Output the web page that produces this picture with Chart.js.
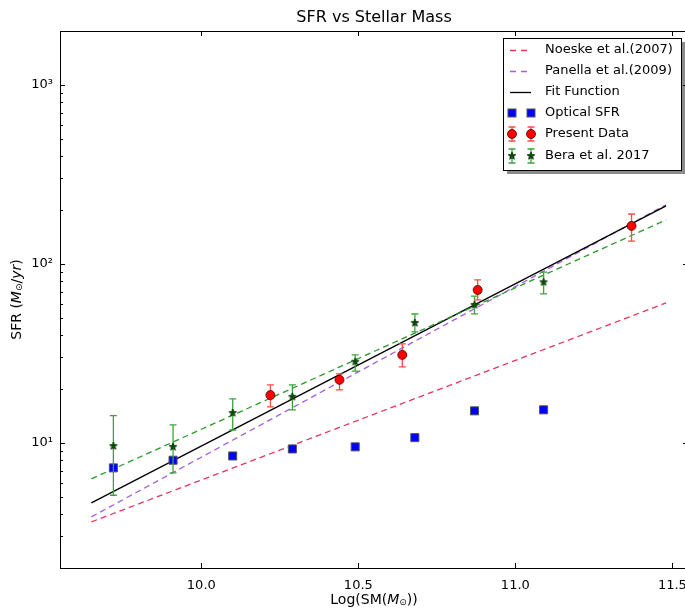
<!DOCTYPE html>
<html lang="en">
<head>
<meta charset="UTF-8">
<title>SFR vs Stellar Mass</title>
<script src="https://cdn.jsdelivr.net/npm/chart.js"></script>
<style>
  html, body { margin: 0; padding: 0; background: #fff; overflow: hidden; }
  #wrap { width: 697px; height: 608px; }
</style>
</head>
<body>
<div id="wrap"><canvas id="sfrChart" width="697" height="608"></canvas></div>
<script>
// data
const opticalMass = [9.72, 9.91, 10.10, 10.29, 10.49, 10.68, 10.87, 11.09];
const opticalSfr  = [7.25, 8.0, 8.45, 9.25, 9.5, 10.7, 15.1, 15.3];

const presentMass = [10.22, 10.44, 10.64, 10.88, 11.37];
const presentSfr  = [18.5, 22.5, 31.0, 71.5, 163];
const presentLow  = [15.9, 19.8, 26.6, 63, 134];
const presentHigh = [21.1, 24.3, 35.7, 81.5, 190];

const beraMass = [9.72, 9.91, 10.10, 10.29, 10.49, 10.68, 10.87, 11.09];
const beraSfr  = [9.6, 9.5, 14.7, 18.1, 28.4, 46.8, 59, 79];
const beraLow  = [5.1, 6.8, 11.8, 15.3, 25.2, 41.7, 52.6, 68];
const beraHigh = [14.2, 12.6, 17.6, 21.1, 31, 52.5, 66, 90];

// straight relations (end points)
const lineMass    = [9.65, 11.48];
const noeskeSfr   = [3.62, 60.5];
const panellaSfr  = [3.86, 214];
const fitSfr      = [4.62, 211];
const beraFitSfr  = [6.3, 176];

const xTicks = [10.0, 10.5, 11.0, 11.5];
const yTicks = [10, 100, 1000];
const yTickLabels = ['10\u00B9', '10\u00B2', '10\u00B3'];

const FONT = '"DejaVu Sans", sans-serif';
const RED_LINE = '#e6375a';
const PURPLE_LINE = '#a45ee0';
const GREEN_LINE = '#2a9a2a';

function pts(xs, ys) { return xs.map((x, i) => ({ x: x, y: ys[i] })); }

function makeStar(r, fill, stroke) {
    const s = Math.ceil(r * 2 + 2);
    const c = document.createElement('canvas');
    c.width = s; c.height = s;
    const g = c.getContext('2d');
    g.beginPath();
    for (let i = 0; i < 10; i++) {
        const rad = i % 2 ? r * 0.45 : r;
        const a = -Math.PI / 2 + i * Math.PI / 5;
        g.lineTo(s / 2 + rad * Math.cos(a), s / 2 + rad * Math.sin(a));
    }
    g.closePath();
    g.fillStyle = fill; g.fill();
    g.strokeStyle = stroke; g.lineWidth = 0.8; g.stroke();
    return c;
}
const starImg = makeStar(4, '#0b4d0b', '#063306');

function errBar(ctx, px, y1, y2, color) {
    ctx.save();
    ctx.strokeStyle = color;
    ctx.lineWidth = 1.3;
    ctx.beginPath();
    ctx.moveTo(px, y1); ctx.lineTo(px, y2);
    ctx.moveTo(px - 3.5, y1); ctx.lineTo(px + 3.5, y1);
    ctx.moveTo(px - 3.5, y2); ctx.lineTo(px + 3.5, y2);
    ctx.stroke();
    ctx.restore();
}

// text with italic M and subscript sun symbol
function drawRich(ctx, parts, x, y) {
    let total = 0;
    parts.forEach(p => { ctx.font = p.font; total += ctx.measureText(p.t).width; });
    let cx = x - total / 2;
    parts.forEach(p => {
        ctx.font = p.font;
        ctx.fillText(p.t, cx, y + (p.dy || 0));
        cx += ctx.measureText(p.t).width;
    });
}

const errorBars = {
    id: 'errorBars',
    beforeDatasetDraw(chart, args) {
        const ds = chart.data.datasets[args.index];
        if (!ds.errLow) return;
        const xs = chart.scales.x, ys = chart.scales.y;
        ds.data.forEach((p, i) => {
            errBar(chart.ctx, xs.getPixelForValue(p.x),
                ys.getPixelForValue(ds.errLow[i]), ys.getPixelForValue(ds.errHigh[i]), ds.errColor);
        });
    }
};

const decorations = {
    id: 'decorations',
    afterDraw(chart) {
        const ctx = chart.ctx, a = chart.chartArea;
        const xs = chart.scales.x, ys = chart.scales.y;
        ctx.save();
        ctx.strokeStyle = '#000';
        ctx.lineWidth = 1;
        // tick marks, pointing inward on all sides
        ctx.beginPath();
        xTicks.forEach(v => {
            const px = Math.round(xs.getPixelForValue(v)) + 0.5;
            ctx.moveTo(px, a.bottom); ctx.lineTo(px, a.bottom - 5);
            ctx.moveTo(px, a.top); ctx.lineTo(px, a.top + 5);
        });
        for (let d = 1; d <= 1000; d *= 10) {
            for (let m = 1; m <= 9; m++) {
                const v = d * m;
                if (v < ys.min || v > ys.max) continue;
                const len = m === 1 ? 5 : 3;
                const py = Math.round(ys.getPixelForValue(v)) + 0.5;
                ctx.moveTo(a.left, py); ctx.lineTo(a.left + len, py);
                ctx.moveTo(a.right, py); ctx.lineTo(a.right - len, py);
            }
        }
        ctx.stroke();
        ctx.strokeRect(Math.round(a.left) + 0.5, Math.round(a.top) + 0.5,
            Math.round(a.right - a.left), Math.round(a.bottom - a.top));

        // title and axis labels
        ctx.fillStyle = '#000';
        ctx.textBaseline = 'middle';
        const mid = (a.left + a.right) / 2;
        ctx.font = '16px ' + FONT;
        ctx.textAlign = 'center';
        ctx.fillText('SFR vs Stellar Mass', mid, 18);
        ctx.textAlign = 'left';
        drawRich(ctx, [
            { t: 'Log(SM(', font: '14px ' + FONT },
            { t: 'M', font: 'italic 14px ' + FONT },
            { t: '\u2299', font: '9px ' + FONT, dy: 3 },
            { t: '))', font: '14px ' + FONT }
        ], mid, 600);
        ctx.save();
        ctx.translate(17, (a.top + a.bottom) / 2);
        ctx.rotate(-Math.PI / 2);
        drawRich(ctx, [
            { t: 'SFR (', font: '14px ' + FONT },
            { t: 'M', font: 'italic 14px ' + FONT },
            { t: '\u2299', font: '9px ' + FONT, dy: 3 },
            { t: '/', font: '14px ' + FONT },
            { t: 'yr', font: 'italic 14px ' + FONT },
            { t: ')', font: '14px ' + FONT }
        ], 0, 0);
        ctx.restore();

        // legend box with shadow
        const lx = 503, ly = 38, lw = 178, lh = 132;
        ctx.fillStyle = 'rgba(0,0,0,0.45)';
        ctx.fillRect(lx + 4, ly + 4, lw, lh);
        ctx.fillStyle = '#fff';
        ctx.fillRect(lx, ly, lw, lh);
        ctx.strokeStyle = '#000';
        ctx.strokeRect(lx + 0.5, ly + 0.5, lw, lh);

        const rows = [50, 71, 92, 113, 134, 156];
        const names = ['Noeske et al.(2007)', 'Panella et al.(2009)', 'Fit Function',
            'Optical SFR', 'Present Data', 'Bera et al. 2017'];
        const m1 = 512, m2 = 531;
        ctx.lineWidth = 1.3;
        [[RED_LINE, [6, 5]], [PURPLE_LINE, [6, 5]], ['#000', []]].forEach((s, i) => {
            ctx.strokeStyle = s[0];
            ctx.setLineDash(s[1]);
            ctx.beginPath();
            ctx.moveTo(510, rows[i] + 0.5); ctx.lineTo(531, rows[i] + 0.5);
            ctx.stroke();
        });
        ctx.setLineDash([]);
        [m1, m2].forEach(mx => {
            ctx.fillStyle = '#0000ff';
            ctx.strokeStyle = '#555';
            ctx.lineWidth = 1;
            ctx.fillRect(mx - 4, rows[3] - 4, 8, 8);
            ctx.strokeRect(mx - 4, rows[3] - 4, 8, 8);
            errBar(ctx, mx, rows[4] - 7, rows[4] + 7, '#ff4a4a');
            ctx.beginPath();
            ctx.arc(mx, rows[4], 4.5, 0, Math.PI * 2);
            ctx.fillStyle = '#ff0000'; ctx.fill();
            ctx.strokeStyle = '#400'; ctx.lineWidth = 0.8; ctx.stroke();
            errBar(ctx, mx, rows[5] - 7, rows[5] + 7, '#3aa63a');
            ctx.drawImage(starImg, mx - starImg.width / 2, rows[5] - starImg.height / 2);
        });
        ctx.fillStyle = '#000';
        ctx.font = '13px ' + FONT;
        ctx.textAlign = 'left';
        names.forEach((n, i) => ctx.fillText(n, 545, rows[i]));
        ctx.restore();
    }
};

const lineStyle = (label, data, color, dash, order) => ({
    label: label,
    data: data,
    showLine: true,
    borderColor: color,
    borderWidth: 1.3,
    borderDash: dash,
    pointRadius: 0,
    fill: false,
    order: order
});

new Chart(document.getElementById('sfrChart').getContext('2d'), {
    type: 'scatter',
    data: {
        datasets: [
            lineStyle('Noeske et al.(2007)', pts(lineMass, noeskeSfr), RED_LINE, [6, 4], 10),
            lineStyle('Panella et al.(2009)', pts(lineMass, panellaSfr), PURPLE_LINE, [6, 4], 9),
            lineStyle('Fit Function', pts(lineMass, fitSfr), '#000', [], 8),
            lineStyle('Bera fit', pts(lineMass, beraFitSfr), GREEN_LINE, [6, 4], 7),
            {
                label: 'Optical SFR',
                data: pts(opticalMass, opticalSfr),
                pointStyle: 'rect',
                pointRadius: 5.7,
                backgroundColor: '#0000ff',
                borderColor: '#555',
                borderWidth: 1,
                order: 3
            },
            {
                label: 'Bera et al. 2017',
                data: pts(beraMass, beraSfr),
                pointStyle: starImg,
                errLow: beraLow,
                errHigh: beraHigh,
                errColor: '#3aa63a',
                order: 2
            },
            {
                label: 'Present Data',
                data: pts(presentMass, presentSfr),
                pointStyle: 'circle',
                pointRadius: 4.5,
                backgroundColor: '#ff0000',
                borderColor: '#400',
                borderWidth: 0.8,
                errLow: presentLow,
                errHigh: presentHigh,
                errColor: '#ff4a4a',
                order: 1
            }
        ]
    },
    options: {
        responsive: false,
        animation: false,
        layout: { padding: { top: 31, right: 0, left: 0, bottom: 0 } },
        plugins: {
            legend: { display: false },
            title: { display: false },
            tooltip: { enabled: false }
        },
        scales: {
            x: {
                type: 'linear',
                min: 9.55,
                max: 11.55,
                grid: { display: false, drawTicks: false },
                border: { display: false },
                afterBuildTicks: s => { s.ticks = xTicks.map(v => ({ value: v })); },
                afterFit: s => { s.height = 40; },
                ticks: {
                    autoSkip: false,
                    maxRotation: 0,
                    padding: 10,
                    color: '#000',
                    font: { family: FONT, size: 13 },
                    callback: v => v.toFixed(1)
                }
            },
            y: {
                type: 'logarithmic',
                min: 2,
                max: 2000,
                grid: { display: false, drawTicks: false },
                border: { display: false },
                afterBuildTicks: s => { s.ticks = yTicks.map(v => ({ value: v })); },
                afterFit: s => { s.width = 60; },
                ticks: {
                    autoSkip: false,
                    padding: 7,
                    color: '#000',
                    font: { family: FONT, size: 13 },
                    callback: v => yTickLabels[yTicks.indexOf(v)]
                }
            }
        }
    },
    plugins: [errorBars, decorations]
});
</script>
</body>
</html>
